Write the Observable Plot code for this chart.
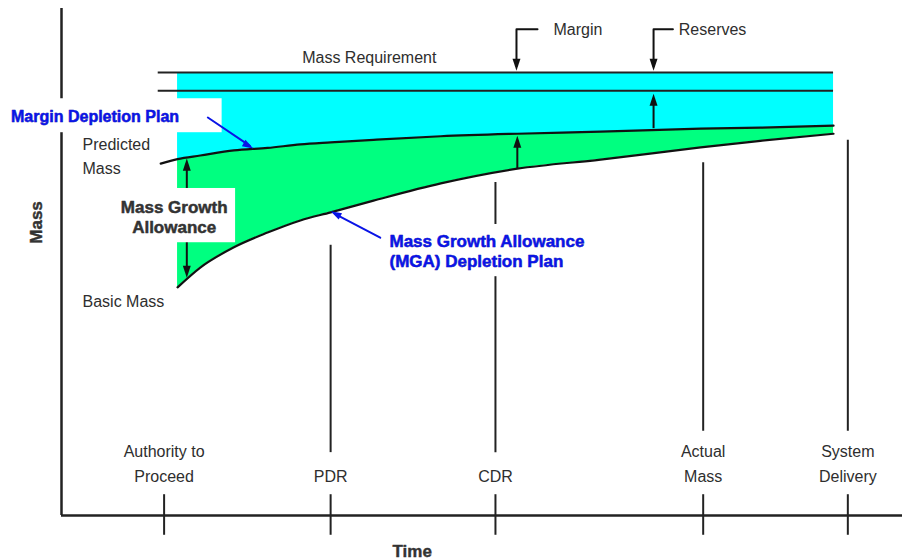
<!DOCTYPE html>
<html><head><meta charset="utf-8">
<script src="https://cdn.jsdelivr.net/npm/d3@7"></script>
<script src="https://cdn.jsdelivr.net/npm/@observablehq/plot@0.6"></script>
<style>
html,body{margin:0;padding:0;background:#fff;}
#chart svg{display:block;}
</style></head><body><div id="chart"></div>
<script>
// Milestones along the time axis (time in % of the axis length)
const milestones = ["Authority to\nProceed", "PDR", "CDR", "Actual\nMass", "System\nDelivery"];
const milestoneTime = [12.2, 32.0, 51.6, 76.3, 93.5];

// Mass curves (mass in % of the axis height)
const time          = [11.8, 13.8, 16.5, 20.5, 24.5, 28.4, 32.0, 37.1, 45.1, 54.2, 64.1, 76.0, 83.1, 91.8];
const predictedMass = [69.4, 70.3, 71.0, 72.0, 72.5, 73.2, 73.6, 74.1, 74.8, 75.3, 75.7, 76.3, 76.5, 76.9];
const basicMass     = [null, 45.0, 48.9, 52.9, 55.8, 58.2, 59.8, 62.1, 65.5, 68.4, 70.2, 72.6, 73.9, 75.3];
const massRequirement = 87.4;
const reserveLevel = 83.8;
const levelStart = 11.5, levelEnd = 91.8;

const curveData = time.map((t, i) => ({t, predicted: predictedMass[i], basic: basicMass[i]}));
const band = curveData.filter(d => d.basic != null);

const guides = [
  {t: milestoneTime[1], top: 53.3, bottom: 12.4},
  {t: milestoneTime[2], top: 65.7, bottom: 12.4},
  {t: milestoneTime[3], top: 69.6, bottom: 16.6},
  {t: milestoneTime[4], top: 74.0, bottom: 16.6}
];

const head = {draw(ctx, size) { const l = Math.sqrt(size); const w = l * 0.33; ctx.moveTo(0, 0); ctx.lineTo(w, l); ctx.lineTo(-w, l); ctx.closePath(); }};

const FONT = "Liberation Sans, Arial, Helvetica, sans-serif";
const ink = "#222";
const textGray = "#2e2e2e";
const blue = "#0a14e6";

const chart = Plot.plot({
  width: 902,
  height: 560,
  marginLeft: 61,
  marginRight: 0,
  marginTop: 8,
  marginBottom: 45,
  x: {domain: [0, 100], axis: null},
  y: {domain: [0, 100], axis: null},
  style: {background: "white", fontFamily: FONT},
  marks: [
    Plot.areaY(band, {x: "t", y1: "predicted", y2: () => massRequirement, fill: "#00ffff", curve: "monotone-x"}),
    Plot.areaY(band, {x: "t", y1: "basic", y2: "predicted", fill: "#00ff80", curve: "monotone-x"}),
    Plot.ruleY([massRequirement, reserveLevel], {x1: levelStart, x2: levelEnd, stroke: ink, strokeWidth: 2}),
    Plot.line(curveData, {x: "t", y: "predicted", curve: "monotone-x", stroke: "#111", strokeWidth: 2.2}),
    Plot.line(band, {x: "t", y: "basic", curve: "monotone-x", stroke: "#111", strokeWidth: 2.2}),
    Plot.ruleX(guides, {x: "t", y1: "bottom", y2: "top", stroke: ink, strokeWidth: 2}),
    Plot.ruleX(milestoneTime, {y1: -3.9, y2: 4.1, stroke: ink, strokeWidth: 2}),
    Plot.ruleX([0], {y1: 0, y2: 100, stroke: ink, strokeWidth: 2.5}),
    Plot.ruleY([0], {x1: 0, x2: 100, stroke: ink, strokeWidth: 2.5}),
    // black arrows
    Plot.ruleX([14.9], {y1: 47.9, y2: 69.4, stroke: "#111", strokeWidth: 2}),
    Plot.ruleX([54.2], {y1: 68.4, y2: 73.9, stroke: "#111", strokeWidth: 2}),
    Plot.ruleX([70.4], {y1: 76.3, y2: 82.2, stroke: "#111", strokeWidth: 2}),
    Plot.line([[56.6, 95.9], [54.1, 95.9], [54.1, 88.6]], {stroke: "#111", strokeWidth: 2}),
    Plot.line([[72.7, 95.9], [70.4, 95.9], [70.4, 88.6]], {stroke: "#111", strokeWidth: 2}),
    Plot.dot([[14.9, 70.4], [54.2, 74.9], [70.4, 83.2]], {symbol: head, r: 6.8, fill: "#111", stroke: "none"}),
    Plot.dot([[14.9, 46.9], [54.1, 87.7], [70.4, 87.7]], {symbol: head, r: 6.8, fill: "#111", stroke: "none", rotate: 180}),
    // white label boxes
    Plot.rect([0], {x1: -7.3, x2: 19.1, y1: 75.5, y2: 82.2, fill: "white"}),
    Plot.rect([0], {x1: 6.8, x2: 20.7, y1: 53.8, y2: 64.5, fill: "white"}),
    Plot.rect([0], {x1: 38.5, x2: 64.1, y1: 47.1, y2: 57.4, fill: "white"}),
    // blue arrows
    Plot.line([[17.4, 78.5], [22.4, 72.9]], {stroke: blue, strokeWidth: 2}),
    Plot.dot([[22.8, 72.4]], {symbol: head, r: 6.2, fill: blue, stroke: "none", rotate: 119.5}),
    Plot.line([[37.9, 54.8], [32.5, 59.5]], {stroke: blue, strokeWidth: 2}),
    Plot.dot([[32.0, 60.0]], {symbol: head, r: 6.2, fill: blue, stroke: "none", rotate: -62.5}),
    // texts
    Plot.text(["Mass Requirement"], {x: 36.6, y: 89.3, lineAnchor: "bottom", fontSize: 16, fill: textGray}),
    Plot.text(["Margin"], {x: 58.5, y: 94.7, lineAnchor: "bottom", textAnchor: "start", fontSize: 16, fill: textGray}),
    Plot.text(["Reserves"], {x: 73.4, y: 94.7, lineAnchor: "bottom", textAnchor: "start", fontSize: 16, fill: textGray}),
    Plot.text(["Predicted\nMass"], {x: 2.5, y: 67.3, lineAnchor: "bottom", lineHeight: 1.5, textAnchor: "start", fontSize: 16, fill: textGray}),
    Plot.text(["Basic Mass"], {x: 2.5, y: 41.2, lineAnchor: "bottom", textAnchor: "start", fontSize: 16, fill: textGray}),
    Plot.text(["Margin Depletion Plan"], {x: -6.0, y: 77.7, lineAnchor: "bottom", textAnchor: "start", fontSize: 16, fontWeight: "bold", fill: blue, stroke: "#0000a0", strokeWidth: 0.5}),
    Plot.text(["Mass Growth\nAllowance"], {x: 13.4, y: 55.8, lineAnchor: "bottom", lineHeight: 1.18, fontSize: 17, fontWeight: "bold", fill: "#333", stroke: "#333", strokeWidth: 0.5}),
    Plot.text(["Mass Growth Allowance\n(MGA) Depletion Plan"], {x: 39.0, y: 49.1, lineAnchor: "bottom", lineHeight: 1.18, textAnchor: "start", fontSize: 17, fontWeight: "bold", fill: blue, stroke: "#0000a0", strokeWidth: 0.5}),
    Plot.text(milestones, {x: (d, i) => milestoneTime[i], y: 6.7, lineAnchor: "bottom", lineHeight: 1.55, fontSize: 16, fill: textGray}),
    Plot.text(["Time"], {x: 41.7, y: -8.1, lineAnchor: "bottom", fontSize: 17, fontWeight: "bold", fill: "#333", stroke: "#333", strokeWidth: 0.4}),
    Plot.text(["Mass"], {x: -2.26, y: 57.8, lineAnchor: "bottom", rotate: -90, fontSize: 17, fontWeight: "bold", fill: "#333", stroke: "#333", strokeWidth: 0.4})
  ]
});
document.getElementById("chart").appendChild(chart);
</script>
</body></html>
